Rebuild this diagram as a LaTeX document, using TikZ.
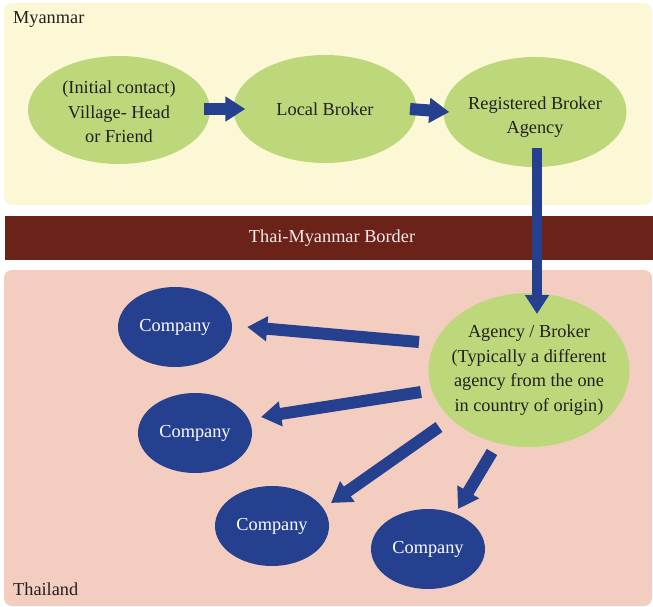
\documentclass[tikz,border=0pt]{standalone}
\usepackage{fontspec}
\setmainfont{Liberation Serif}
\usetikzlibrary{arrows.meta,shapes.geometric}
\definecolor{mmpanel}{HTML}{FCF8D6}
\definecolor{thpanel}{HTML}{F3CDBF}
\definecolor{borderbar}{HTML}{6B2219}
\definecolor{leaf}{HTML}{BDD87B}
\definecolor{navy}{HTML}{25408E}
\definecolor{ink}{HTML}{231F20}
\begin{document}
\begin{tikzpicture}[x=1pt,y=-1pt,
  every node/.style={font=\fontsize{18.3}{24.5}\selectfont},
  txt/.style={align=center, inner sep=0pt},
  greenell/.style={ellipse, fill=leaf, inner sep=0pt},
  compell/.style={ellipse, fill=navy, inner sep=0pt, minimum width=114, minimum height=80, text=white},
  blockarrow/.style={draw=navy, line width=12pt, -{Triangle[length=20pt,width=24pt]}},
  region/.style={inner sep=0pt, anchor=west, text=ink}]
\useasboundingbox (0,0) rectangle (653,607);
\fill[white] (0,0) rectangle (653,607);

% country panels and the border strip
\fill[mmpanel, rounded corners=8] (4,3) rectangle (652,205);
\fill[thpanel, rounded corners=8] (4,270) rectangle (652,606);
\fill[borderbar] (5,216) rectangle (653,260);
\node[txt, text=white!92!borderbar] (border) at (332,238) {Thai-Myanmar Border};
\node[region] (mm) at (13,19) {Myanmar};
\node[region] (th) at (13,589) {Thailand};

% recruitment chain in Myanmar
\node[greenell, minimum width=182, minimum height=108,
  label={[txt, text=ink, yshift=-2pt]center:(Initial contact)\\Village- Head\\or Friend}] (contact) at (119,110) {};
\node[greenell, minimum width=183, minimum height=108,
  label={[txt, text=ink]center:Local Broker}] (local) at (325,109) {};
\node[greenell, minimum width=183, minimum height=110,
  label={[txt, text=ink, yshift=-5pt]center:Registered Broker\\Agency}] (registered) at (535,112) {};

% agency in Thailand
\node[greenell, minimum width=201, minimum height=154,
  label={[txt, text=ink]center:Agency / Broker\\(Typically a different\\agency from the one\\in country of origin)}] (agency) at (529,370) {};

% employers
\node[compell] (c1) at (175,327) {Company};
\node[compell] (c2) at (195,433) {Company};
\node[compell] (c3) at (272,526) {Company};
\node[compell] (c4) at (428,549) {Company};

% arrow end points
\coordinate (r1) at (204,109);
\coordinate (r2) at (410,109);
\coordinate (d1) at (537,148);
\coordinate (a1) at (419,342);
\coordinate (a2) at (421,392);
\coordinate (a3) at (439,427);
\coordinate (a4) at (492,452);

\draw[blockarrow] (r1) -- ([xshift=12]local.west);
\draw[blockarrow] (r2) -- ([xshift=6]registered.west);
\draw[blockarrow, line width=10pt, -{Triangle[length=19pt,width=23pt]}] (d1) -- (537,314);
\draw[blockarrow] (a1) -- ([xshift=15]c1.east);
\draw[blockarrow] (a2) -- (261,417);
\draw[blockarrow] (a3) -- (331,503);
\draw[blockarrow] (a4) -- (458,509);
\end{tikzpicture}
\end{document}
